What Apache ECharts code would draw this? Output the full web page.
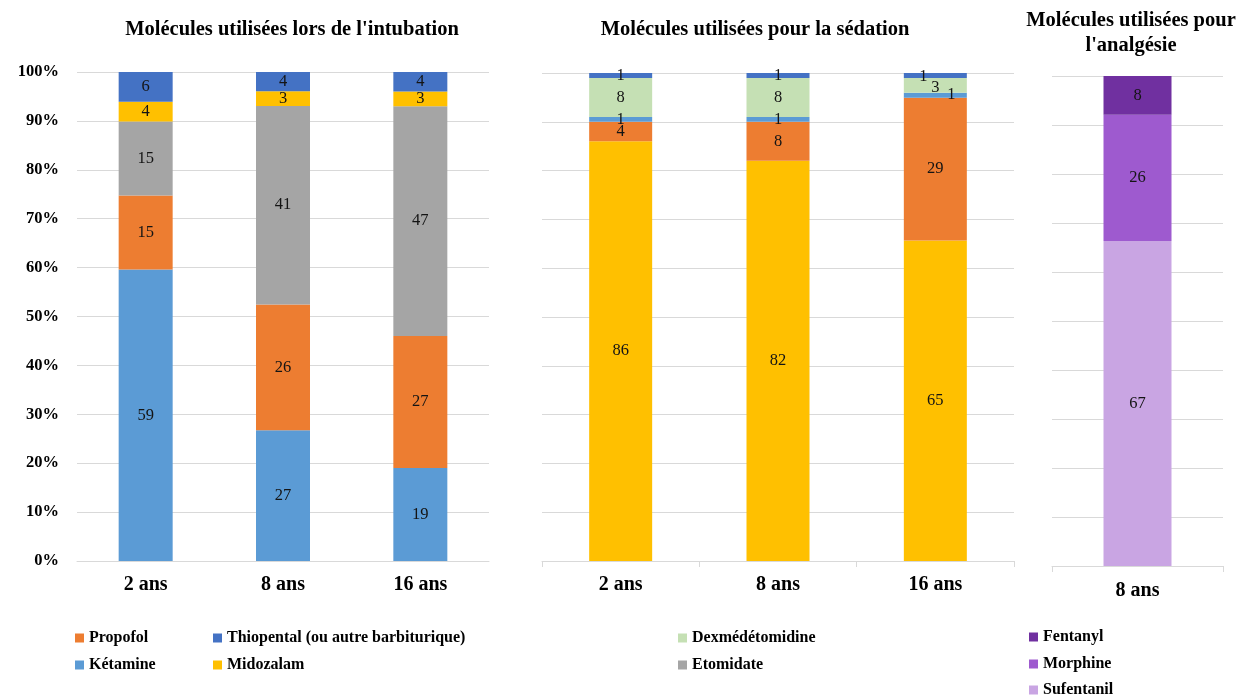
<!DOCTYPE html>
<html><head><meta charset="utf-8">
<script src="https://cdn.jsdelivr.net/npm/echarts@6/dist/echarts.min.js"></script>
<style>html,body{margin:0;padding:0;background:#fff}#c{width:1242px;height:698px}</style>
</head><body><div id="c"></div>
<script>
// ---------- DATA ----------
const agesAB = ['2 ans', '8 ans', '16 ans'];
const agesC = ['8 ans'];
const yTickStep = 10;
// Intubation (counts, Excel 100% stacked)
const intubKetamine   = [59, 27, 19];
const intubPropofol   = [15, 26, 27];
const intubEtomidate  = [15, 41, 47];
const intubMidozalam  = [4, 3, 3];
const intubThiopental = [6, 4, 4];
// Sédation
const sedMidozalam   = [86, 82, 65];
const sedPropofol    = [4, 8, 29];
const sedKetamine    = [1, 1, 1];
const sedDexmed      = [8, 8, 3];
const sedThiopental  = [1, 1, 1];
// Analgésie
const anaSufentanil = [67];
const anaMorphine   = [26];
const anaFentanyl   = [8];

// ---------- STYLE ----------
const COLORS = {
  'Kétamine': '#5B9BD5', 'Propofol': '#ED7D31', 'Etomidate': '#A5A5A5',
  'Midozalam': '#FFC000', 'Thiopental (ou autre barbiturique)': '#4472C4',
  'Dexmédétomidine': '#C5E0B4', 'Fentanyl': '#7030A0', 'Morphine': '#9E5ACF',
  'Sufentanil': '#C9A5E3'
};
const SERIF = '"Liberation Serif", "Times New Roman", serif';
const GRID_COLOR = '#D9D9D9';

function totals(arrs) {
  return arrs[0].map((_, i) => arrs.reduce((s, a) => s + a[i], 0));
}
function mk(name, counts, tot, idx, stack, barWidth, offsets) {
  return {
    name, type: 'bar', stack, xAxisIndex: idx, yAxisIndex: idx, barWidth,
    itemStyle: { color: COLORS[name] },
    label: { show: true, position: 'inside', color: '#141414', fontFamily: SERIF, fontSize: 16.5,
      formatter: p => String(p.data.raw) },
    emphasis: { disabled: true },
    data: counts.map((c, i) => {
      const d = { value: c / tot[i] * 100, raw: c };
      if (offsets && offsets[i]) d.label = { offset: offsets[i] };
      return d;
    })
  };
}
const totA = totals([intubKetamine, intubPropofol, intubEtomidate, intubMidozalam, intubThiopental]);
const totB = totals([sedMidozalam, sedPropofol, sedKetamine, sedDexmed, sedThiopental]);
const totC = totals([anaSufentanil, anaMorphine, anaFentanyl]);

const series = [
  mk('Kétamine', intubKetamine, totA, 0, 'a', 54),
  mk('Propofol', intubPropofol, totA, 0, 'a', 54),
  mk('Etomidate', intubEtomidate, totA, 0, 'a', 54),
  mk('Midozalam', intubMidozalam, totA, 0, 'a', 54),
  mk('Thiopental (ou autre barbiturique)', intubThiopental, totA, 0, 'a', 54),
  mk('Midozalam', sedMidozalam, totB, 1, 'b', 63),
  mk('Propofol', sedPropofol, totB, 1, 'b', 63),
  mk('Kétamine', sedKetamine, totB, 1, 'b', 63, [null, null, [16, -1]]),
  mk('Dexmédétomidine', sedDexmed, totB, 1, 'b', 63, [null, null, [0, 2]]),
  mk('Thiopental (ou autre barbiturique)', sedThiopental, totB, 1, 'b', 63, [null, null, [-12, 1]]),
  mk('Sufentanil', anaSufentanil, totC, 2, 'c', 68),
  mk('Morphine', anaMorphine, totC, 2, 'c', 68),
  mk('Fentanyl', anaFentanyl, totC, 2, 'c', 68)
];

const xLabel = { color: '#000', fontFamily: SERIF, fontWeight: 'bold', fontSize: 20, margin: 14 };
const splitLine = { show: true, lineStyle: { color: GRID_COLOR, width: 1 } };
function yAx(idx, showLabels) {
  return {
    type: 'value', gridIndex: idx, min: 0, max: 100, interval: yTickStep,
    axisLine: { show: false }, axisTick: { show: false }, splitLine,
    axisLabel: { show: showLabels, formatter: '{value}%', color: '#000', fontFamily: SERIF,
      fontWeight: 'bold', fontSize: 16.5, margin: 18 }
  };
}
const legText = { color: '#000', fontFamily: SERIF, fontWeight: 'bold', fontSize: 16 };
function leg(left, top, names, gap) {
  return { orient: 'vertical', left, top, height: 120, padding: 0, itemGap: gap, itemWidth: 9, itemHeight: 9,
    icon: 'rect', textStyle: legText, data: names, selectedMode: false };
}
const titleFont = 'bold 20.5px ' + SERIF;
function ttl(x, y, text) {
  return { type: 'text', x, y, silent: true,
    style: { text, font: titleFont, fill: '#000', textAlign: 'center', textVerticalAlign: 'middle' } };
}

const option = {
  animation: false,
  backgroundColor: '#fff',
  graphic: [
    ttl(292, 30, "Molécules utilisées lors de l'intubation"),
    ttl(755, 30, 'Molécules utilisées pour la sédation'),
    ttl(1131, 21, 'Molécules utilisées pour'),
    ttl(1131, 46, "l'analgésie")
  ],
  grid: [
    { left: 77, right: 1242 - 489, top: 72, bottom: 698 - 561 },
    { left: 542, right: 1242 - 1014, top: 73, bottom: 698 - 561 },
    { left: 1052, right: 1242 - 1223, top: 76, bottom: 698 - 566 }
  ],
  xAxis: [
    { type: 'category', gridIndex: 0, data: agesAB, axisLine: { lineStyle: { color: GRID_COLOR } },
      axisTick: { show: false }, axisLabel: xLabel },
    { type: 'category', gridIndex: 1, data: agesAB, axisLine: { lineStyle: { color: GRID_COLOR } },
      axisTick: { show: true, length: 6, lineStyle: { color: GRID_COLOR } }, axisLabel: xLabel },
    { type: 'category', gridIndex: 2, data: agesC, axisLine: { lineStyle: { color: GRID_COLOR } },
      axisTick: { show: true, length: 6, lineStyle: { color: GRID_COLOR } }, axisLabel: Object.assign({}, xLabel, { margin: 15 }) }
  ],
  yAxis: [yAx(0, true), yAx(1, false), yAx(2, false)],
  legend: [
    leg(75, 630, ['Propofol', 'Kétamine'], 11),
    leg(213, 630, ['Thiopental (ou autre barbiturique)', 'Midozalam'], 11),
    leg(678, 630, ['Dexmédétomidine', 'Etomidate'], 11),
    leg(1029, 629, ['Fentanyl', 'Morphine'], 11),
    leg(1029, 682, ['Sufentanil'], 11)
  ],
  series
};
const chart = echarts.init(document.getElementById('c'));
chart.setOption(option);
</script>
</body></html>
